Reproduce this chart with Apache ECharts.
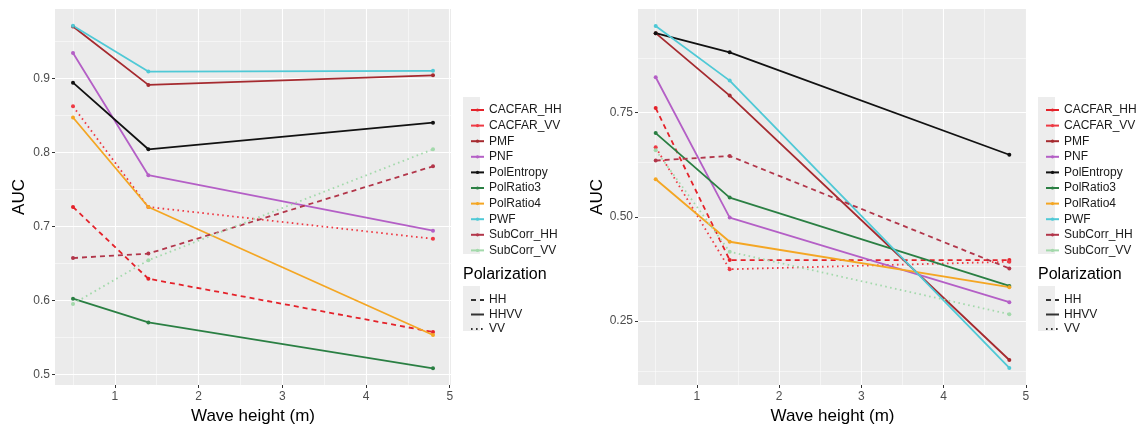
<!DOCTYPE html>
<html><head><meta charset="utf-8">
<script src="https://cdn.jsdelivr.net/npm/echarts@6/dist/echarts.min.js"></script>
<style>html,body{margin:0;padding:0;background:#fff}#c{width:1144px;height:425px}</style>
</head><body><div id="c"></div>
<script>
// ---------- data ----------
const waveHeights = [0.5, 1.4, 4.8];
const methods = ['CACFAR_HH','CACFAR_VV','PMF','PNF','PolEntropy','PolRatio3','PolRatio4','PWF','SubCorr_HH','SubCorr_VV'];
const methodPolarization = ['HH','VV','HHVV','HHVV','HHVV','HHVV','HHVV','HHVV','HH','VV'];
const polarizations = ['HH','HHVV','VV'];

// left panel AUC values at waveHeights
const left_CACFAR_HH  = [0.726, 0.629, 0.557];
const left_CACFAR_VV  = [0.862, 0.726, 0.683];
const left_PMF        = [0.970, 0.891, 0.904];
const left_PNF        = [0.934, 0.769, 0.694];
const left_PolEntropy = [0.894, 0.804, 0.840];
const left_PolRatio3  = [0.602, 0.570, 0.508];
const left_PolRatio4  = [0.847, 0.726, 0.553];
const left_PWF        = [0.971, 0.909, 0.910];
const left_SubCorr_HH = [0.657, 0.663, 0.781];
const left_SubCorr_VV = [0.595, 0.654, 0.804];

// right panel AUC values at waveHeights
const right_CACFAR_HH  = [0.761, 0.396, 0.396];
const right_CACFAR_VV  = [0.667, 0.374, 0.392];
const right_PMF        = [0.941, 0.791, 0.156];
const right_PNF        = [0.835, 0.498, 0.295];
const right_PolEntropy = [0.941, 0.895, 0.649];
const right_PolRatio3  = [0.701, 0.546, 0.334];
const right_PolRatio4  = [0.590, 0.440, 0.331];
const right_PWF        = [0.958, 0.827, 0.137];
const right_SubCorr_HH = [0.635, 0.646, 0.376];
const right_SubCorr_VV = [0.660, 0.416, 0.266];

// tick values
const xTicks = [1, 2, 3, 4, 5];
const xMinorTicks = [0.5, 1.5, 2.5, 3.5, 4.5];
const leftYTicks = [0.5, 0.6, 0.7, 0.8, 0.9];
const leftYMinorTicks = [0.55, 0.65, 0.75, 0.85, 0.95];
const rightYTicks = [0.25, 0.50, 0.75];
const rightYMinorTicks = [0.125, 0.375, 0.625, 0.875];

const leftValues = [left_CACFAR_HH,left_CACFAR_VV,left_PMF,left_PNF,left_PolEntropy,left_PolRatio3,left_PolRatio4,left_PWF,left_SubCorr_HH,left_SubCorr_VV];
const rightValues = [right_CACFAR_HH,right_CACFAR_VV,right_PMF,right_PNF,right_PolEntropy,right_PolRatio3,right_PolRatio4,right_PWF,right_SubCorr_HH,right_SubCorr_VV];

// ---------- styles ----------
const methodColors = ['#e4222a','#ee3a44','#a52a2f','#b45fc6','#111111','#2a7f43','#f4a623','#4fc9d6','#b2364a','#a3d9ab'];
const dashOf = {HH: [5, 4], HHVV: 'solid', VV: [1.6, 3.4]};
const FONT = '"Liberation Sans", Arial, sans-serif';

const chart = echarts.init(document.getElementById('c'));

function gridLines(gi, yMajor, yMinor) {
  const maj = {color:'#ffffff', width:1.1, type:'solid'};
  const min = {color:'#ffffff', width:0.5, type:'solid'};
  const d = [];
  xMinorTicks.forEach(v => d.push({xAxis: v, lineStyle: min}));
  yMinor.forEach(v => d.push({yAxis: v, lineStyle: min}));
  xTicks.forEach(v => d.push({xAxis: v, lineStyle: maj}));
  yMajor.forEach(v => d.push({yAxis: v, lineStyle: maj}));
  return {
    type:'line', name:'__grid'+gi, xAxisIndex: gi, yAxisIndex: gi, data: [], z: 1,
    silent: true,
    markLine: {silent:true, symbol:['none','none'], label:{show:false}, animation:false, z:1, data: d}
  };
}

const series = [gridLines(0, leftYTicks, leftYMinorTicks), gridLines(1, rightYTicks, rightYMinorTicks)];
[leftValues, rightValues].forEach((vals, gi) => {
  methods.forEach((m, i) => {
    series.push({
      name: m, type: 'line', xAxisIndex: gi, yAxisIndex: gi, z: 3,
      data: waveHeights.map((x, k) => [x, vals[i][k]]),
      symbol: 'circle', symbolSize: 4,
      lineStyle: {color: methodColors[i], width: 1.8, type: dashOf[methodPolarization[i]]},
      itemStyle: {color: methodColors[i]}
    });
  });
});
polarizations.forEach(p => {
  series.push({name: p, type:'line', data: [], symbol:'none',
    lineStyle: {color:'#333333', width: 1.1, type: dashOf[p]}, itemStyle:{color:'#333333'}});
});

function xAxis(gi) {
  return {
    type:'value', gridIndex: gi, min: 0.285, max: 5.015,
    name: 'Wave height (m)', nameLocation:'middle', nameGap: 16,
    nameTextStyle: {fontSize: 17, color:'#000', fontFamily: FONT},
    axisLine: {show:false}, splitLine:{show:false},
    axisTick: {show:true, length:3, lineStyle:{color:'#333'}, customValues: xTicks},
    axisLabel: {fontSize: 12, color:'#4d4d4d', margin: 6, fontFamily: FONT, customValues: xTicks}
  };
}
function yAxis(gi, min, max, ticks, dec) {
  return {
    type:'value', gridIndex: gi, min: min, max: max,
    name: 'AUC', nameLocation:'middle', nameGap: 27, nameRotate: 90,
    nameTextStyle: {fontSize: 17, color:'#000', fontFamily: FONT},
    axisLine: {show:false}, splitLine:{show:false},
    axisTick: {show:true, length:3, lineStyle:{color:'#333'}, customValues: ticks},
    axisLabel: {fontSize: 12, color:'#4d4d4d', margin: 5, fontFamily: FONT, customValues: ticks,
      formatter: v => v.toFixed(dec)}
  };
}

function methodLegend(left) {
  return {
    left: left, top: 98, orient:'vertical', data: methods, selectedMode: false,
    itemWidth: 13, itemHeight: 4, itemGap: 1.6,
    lineStyle: {type:'solid'},
    textStyle: {fontSize: 12, color:'#1a1a1a', fontFamily: FONT, lineHeight: 14}
  };
}
function polLegend(left) {
  return {
    left: left, top: 288, orient:'vertical', data: polarizations, selectedMode: false,
    itemWidth: 13, itemHeight: 4, itemGap: 0.5,
    itemStyle: {opacity: 0},
    textStyle: {fontSize: 12, color:'#1a1a1a', fontFamily: FONT, lineHeight: 14}
  };
}
function keyBg(x) {
  return [
    {type:'rect', left: x, top: 97, shape:{width:17, height:157}, style:{fill:'#ededed'}, z: -1},
    {type:'rect', left: x, top: 286, shape:{width:17, height:45}, style:{fill:'#ededed'}, z: -1}
  ];
}

const gridCommon = {top: 9, height: 376, show: true, backgroundColor:'#ebebeb', borderWidth: 0, containLabel: false, outerBoundsMode: 'none'};

chart.setOption({
  animation: false,
  backgroundColor: '#ffffff',
  textStyle: {fontFamily: FONT},
  grid: [
    Object.assign({left: 55, width: 396}, gridCommon),
    Object.assign({left: 638, width: 389}, gridCommon)
  ],
  xAxis: [xAxis(0), xAxis(1)],
  yAxis: [yAxis(0, 0.4854, 0.9936, leftYTicks, 1), yAxis(1, 0.096, 0.999, rightYTicks, 2)],
  title: [
    {text:'Polarization', left: 463, top: 267, textStyle:{fontSize:16, fontWeight:'normal', color:'#000', fontFamily: FONT}, padding: 0},
    {text:'Polarization', left: 1038, top: 267, textStyle:{fontSize:16, fontWeight:'normal', color:'#000', fontFamily: FONT}, padding: 0}
  ],
  legend: [methodLegend(465), polLegend(465), methodLegend(1040), polLegend(1040)],
  graphic: keyBg(463).concat(keyBg(1038)),
  series: series
});
</script></body></html>
